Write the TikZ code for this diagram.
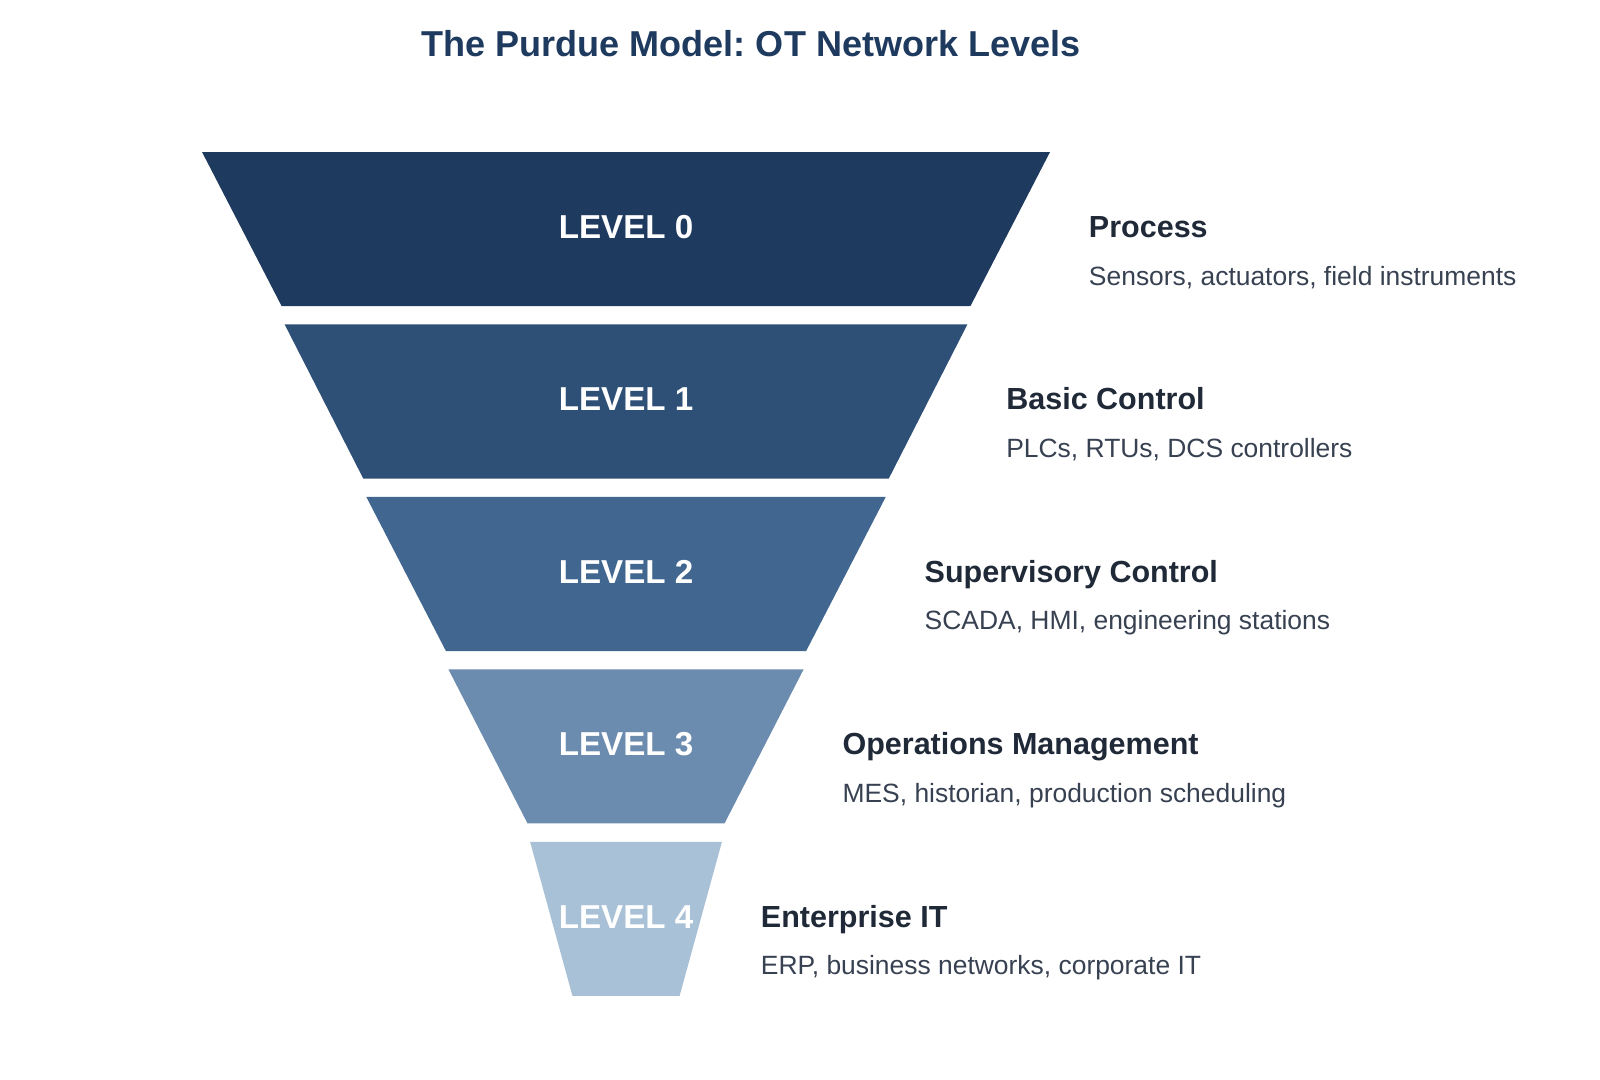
\documentclass[tikz,border=0pt]{standalone}
\usepackage{fontspec}
\setmainfont{Liberation Sans}
\usepackage{tikz}
\usetikzlibrary{positioning,calc}
\frenchspacing

\definecolor{navy}{HTML}{1F3A5F}
\definecolor{lvlA}{HTML}{1F3A5F}
\definecolor{lvlB}{HTML}{2E5077}
\definecolor{lvlC}{HTML}{41668F}
\definecolor{lvlD}{HTML}{6B8CAF}
\definecolor{lvlE}{HTML}{A9C1D6}
\definecolor{headtxt}{HTML}{1F2937}
\definecolor{desctxt}{HTML}{374151}

\begin{document}
\begin{tikzpicture}[
    x=1pt, y=-1pt,
    title/.style={font=\fontsize{35.3}{40}\selectfont\bfseries, text=navy, inner sep=0pt, anchor=base},
    lvltext/.style={font=\fontsize{32.5}{38}\selectfont\bfseries, text=white, inner sep=0pt, anchor=base},
    head/.style={font=\fontsize{29.9}{34}\selectfont\bfseries, text=headtxt, inner sep=0pt, anchor=base west},
    desc/.style={font=\fontsize{25.9}{30}\selectfont, text=desctxt, inner sep=0pt, anchor=base west}
]
    \useasboundingbox (0,0) rectangle (1568,1058);

    \node[title] (title) at (736,55.6) {The Purdue Model: OT Network Levels};

    % funnel bands, top to bottom
    \foreach \i/\tw/\bw/\col/\hd/\dsc in {
        0/415.5/337.5/lvlA/Process/{Sensors, actuators, field instruments},
        1/334.5/257.5/lvlB/Basic Control/{PLCs, RTUs, DCS controllers},
        2/254.5/176.5/lvlC/Supervisory Control/{SCADA, HMI, engineering stations},
        3/174/96.5/lvlD/Operations Management/{MES, historian, production scheduling},
        4/94/52.5/lvlE/Enterprise IT/{ERP, business networks, corporate IT}} {
        \pgfmathsetmacro{\ytop}{149+169*\i}
        \pgfmathsetmacro{\ybot}{\ytop+151}
        \pgfmathsetmacro{\ymid}{\ytop+75.5}
        \fill[\col] (613.5-\tw,\ytop) -- (613.5+\tw,\ytop)
            -- (613.5+\bw,\ybot) -- (613.5-\bw,\ybot) -- cycle;
        \node[lvltext] (lvl\i) at (613.5,\ymid+9.1) {LEVEL \i};
        \node[head] (head\i) at (613.5+\tw+38,\ymid+8.2) {\hd};
        \node[desc] (desc\i) at ($(head\i.base west)+(0,46.6)$) {\dsc};
    }
\end{tikzpicture}
\end{document}
